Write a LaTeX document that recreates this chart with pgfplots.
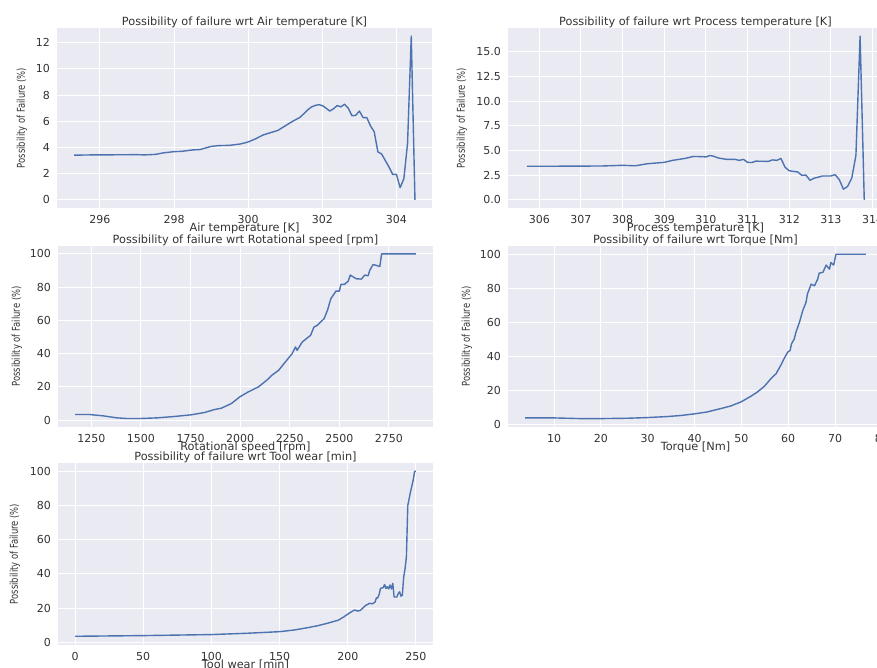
\documentclass[border=0pt]{standalone}
\usepackage{fontspec}
\setmainfont{DejaVu Sans}
\newfontfamily\condfont[FakeStretch=0.78]{DejaVu Sans}
\usepackage{pgfplots}
\pgfplotsset{compat=1.18}
\definecolor{sbbg}{HTML}{EAEAF2}
\definecolor{sbline}{HTML}{4C72B0}
\definecolor{sbtext}{HTML}{333333}
\pgfplotsset{
  sbstyle/.style={
    scale only axis,
    width=375pt, height=180pt,
    anchor=south west,
    axis background/.style={fill=sbbg},
    axis line style={draw=none},
    grid=major,
    major grid style={white, line width=1pt},
    major tick length=0pt,
    tick style={draw=none},
    /pgf/number format/assume math mode=true,
    /pgf/number format/set thousands separator={},
    ticklabel style={font=\fontsize{11}{13}\selectfont, text=sbtext},
    xticklabel style={anchor=north, inner sep=0pt, yshift=-7pt},
    yticklabel style={anchor=east, inner sep=0pt, xshift=-7pt},
    title style={font=\fontsize{11.3}{13}\selectfont, text=sbtext, at={(0.5,1)}, anchor=south, inner sep=0pt, yshift=-6pt},
    xlabel style={font=\fontsize{11.3}{13}\selectfont, text=sbtext, at={(0.5,0)}, anchor=north, inner sep=0pt, yshift=-15pt},
    ylabel style={font=\condfont\fontsize{10.8}{12}\selectfont, text=sbtext, at={(0,0.5)}, anchor=center, inner sep=0pt},
    ylabel={Possibility of Failure (\%)},
  },
  sbplot/.style={color=sbline, line width=1.4pt, line join=round, mark=none},
}
\pgfplotstableread{
x y
295.3 3.41
295.8 3.43
296.5 3.44
297.0 3.45
297.2 3.43
297.5 3.47
297.7 3.58
298.0 3.68
298.2 3.70
298.5 3.81
298.7 3.84
299.0 4.08
299.2 4.14
299.5 4.16
299.8 4.27
300.0 4.42
300.2 4.66
300.4 4.95
300.6 5.13
300.8 5.30
301.0 5.65
301.2 6.00
301.4 6.30
301.6 6.85
301.7 7.08
301.8 7.20
301.9 7.27
302.0 7.20
302.1 7.00
302.2 6.78
302.3 6.95
302.4 7.20
302.5 7.10
302.6 7.30
302.7 7.00
302.8 6.42
302.9 6.45
303.0 6.78
303.1 6.28
303.2 6.28
303.3 5.65
303.4 5.20
303.5 3.66
303.6 3.50
303.7 3.00
303.8 2.50
303.9 1.94
304.0 1.94
304.1 0.93
304.2 1.60
304.3 4.30
304.4 12.50
304.5 0.00
}\airtab
\pgfplotstableread{
x y
305.7 3.40
306.0 3.40
306.5 3.41
307.0 3.42
307.5 3.43
308.0 3.50
308.3 3.45
308.6 3.66
309.0 3.80
309.2 4.00
309.5 4.20
309.7 4.40
309.9 4.38
310.0 4.35
310.1 4.50
310.2 4.40
310.3 4.24
310.5 4.10
310.7 4.10
310.8 4.00
310.9 4.10
311.0 3.80
311.1 3.78
311.2 3.92
311.5 3.90
311.6 4.05
311.7 4.00
311.8 4.20
311.9 3.30
312.0 2.95
312.1 2.88
312.2 2.83
312.3 2.49
312.4 2.50
312.5 1.98
312.6 2.20
312.7 2.30
312.8 2.42
313.0 2.42
313.1 2.55
313.2 2.05
313.3 1.08
313.4 1.35
313.5 2.20
313.6 4.50
313.7 16.60
313.8 0.00
}\proctab
\pgfplotstableread{
x y
1168 3.4
1241 3.4
1310 2.6
1378 1.4
1429 1.0
1497 1.0
1582 1.4
1667 2.2
1752 3.2
1820 4.6
1871 6.4
1905 7.2
1956 10.0
1998 14.0
2041 17.0
2092 20.0
2134 24.0
2160 27.0
2194 30.0
2228 35.0
2262 40.0
2279 44.0
2287 42.0
2313 47.0
2355 51.0
2372 56.0
2389 57.0
2423 61.0
2440 66.0
2457 73.0
2483 77.6
2500 77.6
2508 81.6
2525 81.6
2545 83.6
2555 87.2
2585 85.0
2611 84.8
2628 87.2
2645 86.8
2653 90.0
2670 93.6
2704 92.4
2713 100.0
2886 100.0
}\rottab
\pgfplotstableread{
x y
3.8 3.7
10.0 3.7
15.6 3.3
19.9 3.3
25.6 3.5
29.9 3.9
34.1 4.5
37.0 5.1
40.0 6.1
42.7 7.2
45.6 9.2
47.7 10.7
49.9 13.1
52.0 16.4
53.4 18.9
54.9 22.3
56.3 26.8
57.4 29.7
58.4 34.6
59.1 38.5
59.9 42.4
60.4 43.4
60.7 47.3
61.3 50.2
61.6 53.7
62.4 60.0
63.1 66.8
63.8 71.7
64.1 76.6
64.9 82.4
65.6 81.4
66.3 85.4
66.6 88.9
67.4 89.3
68.1 93.6
68.8 91.2
69.1 95.1
69.7 93.6
70.2 100.0
76.6 100.0
}\torqtab
\pgfplotstableread{
x y
0 3.5
50 3.9
100 4.5
127 5.3
150 6.2
161 7.2
171 8.6
178 9.7
185 11.1
193 12.9
197 14.8
201 17.0
205 18.9
207 18.3
209 18.5
211 20.0
213 21.5
216 22.8
218 22.5
220 23.5
221 26.0
222 26.0
223 28.0
224 31.5
226 32.0
227 33.8
228 31.5
229 32.5
230 31.2
231 33.5
232 31.2
233 34.5
234 26.5
236 26.5
237 28.5
238 29.5
239 27.0
240 27.5
241 38.0
242 43.0
243 50.0
244 80.0
246 88.0
248 95.0
249 100.0
250 100.0
}\tooltab
\begin{document}
\begin{tikzpicture}
\begin{axis}[sbstyle, at={(57pt,460pt)},
  xmin=294.84, xmax=304.96, ymin=-0.625, ymax=13.125,
  xtick={296,298,...,304}, ytick={0,2,...,12},
  title={Possibility of failure wrt Air temperature [K]},
  xlabel={Air temperature [K]},
  ylabel style={yshift=35pt}]
\addplot[sbplot] table[x=x,y=y]{\airtab};
\end{axis}
\begin{axis}[sbstyle, at={(508pt,460pt)},
  xmin=305.25, xmax=314.25, ymin=-0.83, ymax=17.43,
  xtick={306,307,...,314}, ytick={0,2.5,...,17.5},
  yticklabel style={/pgf/number format/.cd, fixed, fixed zerofill, precision=1},
  title={Possibility of failure wrt Process temperature [K]},
  xlabel={Process temperature [K]},
  ylabel style={yshift=46pt}]
\addplot[sbplot] table[x=x,y=y]{\proctab};
\end{axis}
\begin{axis}[sbstyle, at={(58pt,241pt)}, height=181pt,
  xmin=1082, xmax=2972, ymin=-4.1, ymax=104.7,
  xtick={1250,1500,...,2750}, ytick={0,20,...,100},
  title={Possibility of failure wrt Rotational speed [rpm]},
  xlabel={Rotational speed [rpm]},
  ylabel style={yshift=41pt}]
\addplot[sbplot] table[x=x,y=y]{\rottab};
\end{axis}
\begin{axis}[sbstyle, at={(508pt,241pt)}, height=181pt,
  xmin=0.16, xmax=80.24, ymin=-1.64, ymax=104.84,
  xtick={10,20,...,80}, ytick={0,20,...,100},
  title={Possibility of failure wrt Torque [Nm]},
  xlabel={Torque [Nm]},
  ylabel style={yshift=41pt}]
\addplot[sbplot] table[x=x,y=y]{\torqtab};
\end{axis}
\begin{axis}[sbstyle, at={(58pt,23pt)}, height=182pt,
  xmin=-12.5, xmax=262.5, ymin=-1.6, ymax=104.9,
  xtick={0,50,...,250}, ytick={0,20,...,100},
  title={Possibility of failure wrt Tool wear [min]},
  xlabel={Tool wear [min]},
  ylabel style={yshift=43pt}]
\addplot[sbplot] table[x=x,y=y]{\tooltab};
\end{axis}
\pgfresetboundingbox
\path[use as bounding box] (0pt,0pt) rectangle (877pt,668pt);
\end{tikzpicture}
\end{document}
